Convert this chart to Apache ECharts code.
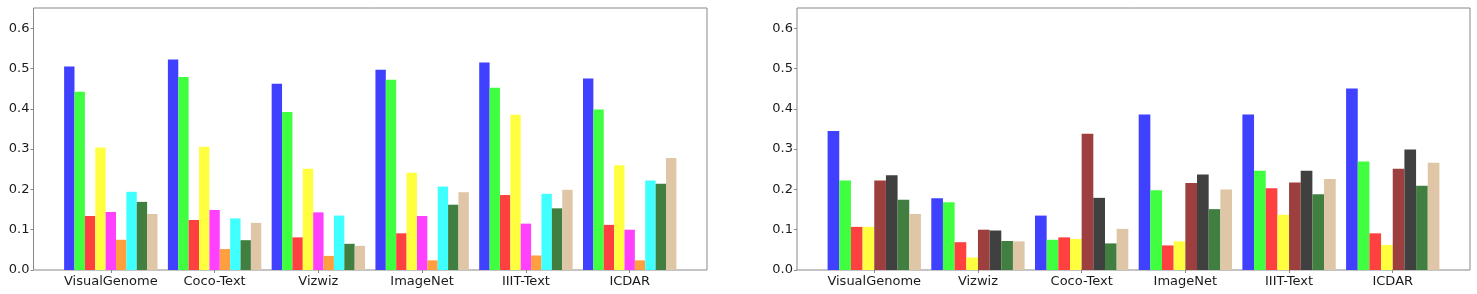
<!DOCTYPE html>
<html>
<head>
<meta charset="utf-8">
<script src="https://cdn.jsdelivr.net/npm/echarts@6/dist/echarts.min.js"></script>
<style>html,body{margin:0;padding:0;background:#fff}#c{width:1477px;height:294px}</style>
</head>
<body>
<div id="c"></div>
<script>
// ---- data ----
const leftCategories = ['VisualGenome', 'Coco-Text', 'Vizwiz', 'ImageNet', 'IIIT-Text', 'ICDAR'];
const rightCategories = ['VisualGenome', 'Vizwiz', 'Coco-Text', 'ImageNet', 'IIIT-Text', 'ICDAR'];
const yTicks = [0, 0.1, 0.2, 0.3, 0.4, 0.5, 0.6];

// left panel series (9 per group)
const leftBlue    = [0.505, 0.522, 0.462, 0.497, 0.515, 0.475];
const leftGreen   = [0.442, 0.479, 0.392, 0.472, 0.452, 0.398];
const leftRed     = [0.134, 0.124, 0.081, 0.091, 0.186, 0.112];
const leftYellow  = [0.304, 0.306, 0.251, 0.241, 0.385, 0.260];
const leftMagenta = [0.144, 0.149, 0.143, 0.134, 0.115, 0.100];
const leftOrange  = [0.075, 0.052, 0.035, 0.024, 0.036, 0.024];
const leftCyan    = [0.194, 0.128, 0.135, 0.207, 0.189, 0.222];
const leftDkGreen = [0.169, 0.074, 0.065, 0.162, 0.153, 0.214];
const leftTan     = [0.139, 0.117, 0.060, 0.193, 0.199, 0.278];

// right panel series (8 per group)
const rightBlue    = [0.345, 0.178, 0.135, 0.386, 0.386, 0.450];
const rightGreen   = [0.222, 0.168, 0.075, 0.198, 0.246, 0.269];
const rightRed     = [0.107, 0.069, 0.081, 0.061, 0.203, 0.091];
const rightYellow  = [0.107, 0.031, 0.077, 0.071, 0.137, 0.062];
const rightBrown   = [0.222, 0.100, 0.338, 0.216, 0.217, 0.251];
const rightBlack   = [0.235, 0.098, 0.179, 0.237, 0.246, 0.299];
const rightDkGreen = [0.174, 0.072, 0.066, 0.151, 0.188, 0.209];
const rightTan     = [0.139, 0.071, 0.102, 0.200, 0.226, 0.266];

// ---- styling ----
const C = {
  blue: '#4040ff', green: '#40ff40', red: '#ff4040', yellow: '#ffff40',
  magenta: '#ff40ff', orange: '#ff9f40', cyan: '#40ffff', dkgreen: '#407f40',
  tan: '#dfc6a7', brown: '#9e3f3f', black: '#404040'
};
const FONT = 'DejaVu Sans';
const frames = [{left: 33.5, width: 673.5}, {left: 797, width: 673}];
const TOP = 8, HEIGHT = 262;
const padUnits = 0.245;

const leftSeries = [
  [leftBlue, C.blue], [leftGreen, C.green], [leftRed, C.red], [leftYellow, C.yellow],
  [leftMagenta, C.magenta], [leftOrange, C.orange], [leftCyan, C.cyan],
  [leftDkGreen, C.dkgreen], [leftTan, C.tan]
];
const rightSeries = [
  [rightBlue, C.blue], [rightGreen, C.green], [rightRed, C.red], [rightYellow, C.yellow],
  [rightBrown, C.brown], [rightBlack, C.black], [rightDkGreen, C.dkgreen], [rightTan, C.tan]
];

const grid = [], xAxis = [], yAxis = [], series = [];
frames.forEach((f, p) => {
  const unit = f.width / (6 + 2 * padUnits);
  const pad = unit * padUnits;
  // frame grid
  grid.push({left: f.left, top: TOP, width: f.width, height: HEIGHT, show: true,
    borderColor: '#888', borderWidth: 1, backgroundColor: 'transparent'});
  xAxis.push({gridIndex: 2 * p, type: 'value', show: false, min: 0, max: 1});
  yAxis.push({gridIndex: 2 * p, type: 'value', show: false, min: 0, max: 1});
  // data grid
  grid.push({left: f.left + pad, top: TOP, width: f.width - 2 * pad, height: HEIGHT});
  xAxis.push({
    gridIndex: 2 * p + 1, type: 'category',
    data: p === 0 ? leftCategories : rightCategories,
    axisLine: {show: false},
    axisTick: {show: true, alignWithLabel: true, length: 3, lineStyle: {color: '#888'}},
    axisLabel: {interval: 0, margin: 5, fontFamily: FONT, fontSize: 13, color: '#1a1a1a'}
  });
  yAxis.push({
    gridIndex: 2 * p + 1, type: 'value', min: 0, max: 0.65, interval: 0.1,
    offset: pad,
    axisLine: {show: false},
    splitLine: {show: false},
    axisTick: {show: true, length: 3, lineStyle: {color: '#888'}, customValues: yTicks},
    axisLabel: {margin: 4, fontFamily: FONT, fontSize: 13, color: '#1a1a1a',
      customValues: yTicks, formatter: v => v.toFixed(1)}
  });
  const list = p === 0 ? leftSeries : rightSeries;
  list.forEach(([d, col]) => {
    series.push({
      type: 'bar', xAxisIndex: 2 * p + 1, yAxisIndex: 2 * p + 1, data: d,
      barGap: '0%', barCategoryGap: '10%',
      itemStyle: {color: col}, silent: true
    });
  });
});

const chart = echarts.init(document.getElementById('c'), null, {renderer: 'canvas'});
chart.setOption({animation: false, grid, xAxis, yAxis, series});
</script>
</body>
</html>
